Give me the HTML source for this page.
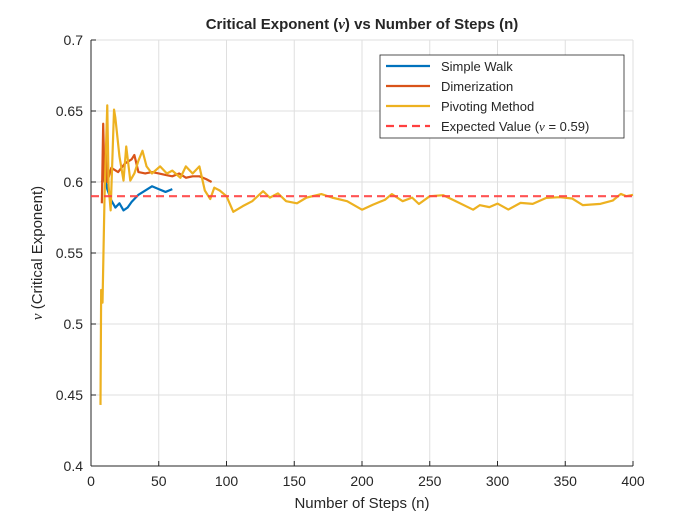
<!DOCTYPE html>
<html><head><meta charset="utf-8"><style>
body{margin:0;background:#fff}
svg text{font-family:"Liberation Sans",sans-serif;fill:#262626}
</style></head><body>
<svg id="c" width="700" height="525" xmlns="http://www.w3.org/2000/svg"></svg>
<script>
const xTicks=[0,50,100,150,200,250,300,350,400];
const yTicks=[0.4,0.45,0.5,0.55,0.6,0.65,0.7];
const simpleN=[8,10,12,15,18,21,24,27,30,35,40,45,50,55,60];
const simpleV=[.600,.605,.595,.587,.582,.585,.580,.582,.586,.591,.594,.597,.595,.593,.595];
const dimerN=[8,9,10,11,12,15,20,25,30,32,35,40,45,50,55,60,65,70,75,80,85,89];
const dimerV=[.585,.641,.600,.620,.600,.610,.607,.613,.616,.619,.607,.606,.607,.606,.605,.604,.606,.603,.604,.604,.602,.600];
const pivotN=[7,7.5,8.5,10,12,13,14.5,17,18,21,24,26,29,32,35,38,41,45,51,56,60,66,70,75,80,84,88,91,95,100,105,112,119,127,132,138,144,152,159,170,178,189,200,208,217,222,230,237,242,250,260,267,282,287,294,300,308,317,326,336,346,355,363,376,385,391,395,400];
const pivotV=[.443,.524,.515,.590,.654,.597,.580,.651,.645,.618,.601,.625,.601,.606,.615,.622,.611,.606,.611,.606,.608,.603,.611,.606,.611,.594,.588,.596,.594,.590,.579,.583,.5865,.5935,.589,.592,.5865,.585,.589,.5915,.589,.5865,.5805,.584,.5875,.5915,.5865,.589,.5845,.590,.5907,.5875,.5805,.5837,.5823,.5848,.5806,.5853,.5846,.5888,.5893,.5884,.5837,.5846,.5869,.5916,.590,.591];
const expected=0.59;
const X0=91,X1=633,Y0=466,Y1=40;
const sx=v=>X0+(v-0)/(400)*(X1-X0);
const sy=v=>Y0-(v-0.4)/0.3*(Y0-Y1);
const svg=document.getElementById('c');
const NS='http://www.w3.org/2000/svg';
function mk(t,a,p){const e=document.createElementNS(NS,t);for(const k in a)e.setAttribute(k,a[k]);(p||svg).appendChild(e);return e;}
mk('rect',{x:X0,y:Y1,width:X1-X0,height:Y0-Y1,fill:'#fff'});
xTicks.forEach(t=>{
 const g=mk('line',{x1:sx(t),x2:sx(t),y1:Y1,y2:Y0,stroke:'#dfdfdf','stroke-width':1});
 
 
 mk('line',{x1:sx(t),x2:sx(t),y1:Y0,y2:Y0-5,stroke:'#262626'});
 const l=mk('text',{x:sx(t),y:Y0+20,'text-anchor':'middle','font-size':14});
 l.textContent=t;
 
 
});
yTicks.forEach(t=>{
 const g=mk('line',{x1:X0,x2:X1,y1:sy(t),y2:sy(t),stroke:'#dfdfdf','stroke-width':1});
 
 
 mk('line',{x1:X0,x2:X0+5,y1:sy(t),y2:sy(t),stroke:'#262626'});
 const l=mk('text',{x:X0-8,y:sy(t)+5,'text-anchor':'end','font-size':14});
 l.textContent=String(t);
 
 
});
mk('line',{x1:X0,x2:X1,y1:Y0,y2:Y0,stroke:'#262626'});
mk('line',{x1:X0,x2:X0,y1:Y0,y2:Y1,stroke:'#262626'});
function series(ns,vs,col,name){
 const p=mk('polyline',{points:ns.map((n,i)=>sx(n)+','+sy(vs[i])).join(' '),fill:'none',stroke:col,'stroke-width':2.2,'stroke-linejoin':'round'});
 
 
}
series(simpleN,simpleV,'#0072bd','simple-walk-line');
series(dimerN,dimerV,'#d95319','dimerization-line');
series(pivotN,pivotV,'#edb120','pivoting-method-line');
const ex=mk('line',{x1:X0,x2:X1,y1:sy(expected),y2:sy(expected),stroke:'#ff4040','stroke-width':2.2,'stroke-dasharray':'8,5','stroke-opacity':0.9});


</script>
<svg width="700" height="525" style="position:absolute;left:0;top:0" xmlns="http://www.w3.org/2000/svg">
<text x="362" y="29" text-anchor="middle" font-size="15" font-weight="bold">Critical Exponent (<tspan font-family="Liberation Serif" font-style="italic">ν</tspan>) vs Number of Steps (n)</text>
<text x="362" y="508" text-anchor="middle" font-size="15">Number of Steps (n)</text>
<text transform="translate(42,253) rotate(-90)" text-anchor="middle" font-size="15"><tspan font-family="Liberation Serif" font-style="italic">ν</tspan> (Critical Exponent)</text>
<g>
<rect x="380" y="55" width="244" height="83" fill="#fff" stroke="#262626" stroke-width="0.8"/>
<line x1="386" x2="430" y1="66" y2="66" stroke="#0072bd" stroke-width="2.2"/>
<text x="441" y="71" font-size="13">Simple Walk</text>
<line x1="386" x2="430" y1="86" y2="86" stroke="#d95319" stroke-width="2.2"/>
<text x="441" y="91" font-size="13">Dimerization</text>
<line x1="386" x2="430" y1="106" y2="106" stroke="#edb120" stroke-width="2.2"/>
<text x="441" y="111" font-size="13">Pivoting Method</text>
<line x1="386" x2="430" y1="126" y2="126" stroke="#ff4040" stroke-width="2.2" stroke-dasharray="8,5"/>
<text x="441" y="131" font-size="13">Expected Value (<tspan font-family="Liberation Serif" font-style="italic">ν</tspan> = 0.59)</text>
</g>
</svg>
</body></html>
